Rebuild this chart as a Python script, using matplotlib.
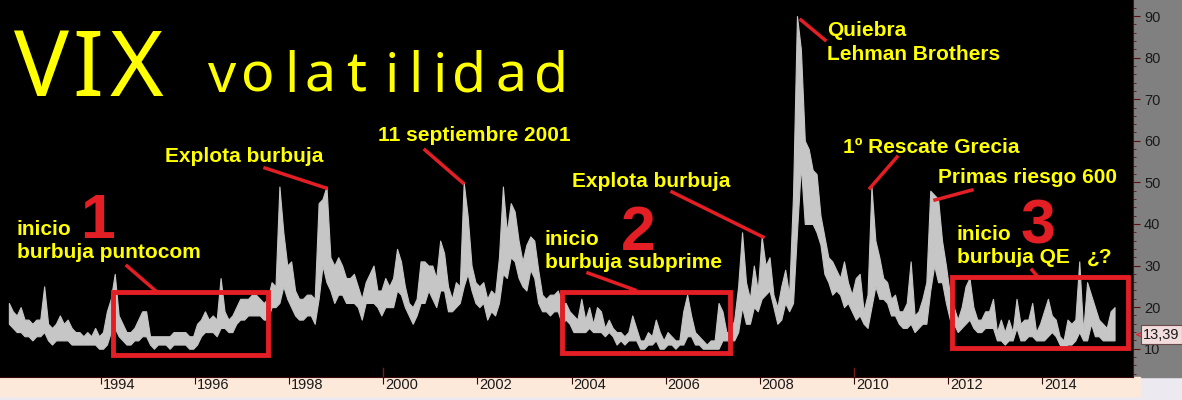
import matplotlib
matplotlib.use("Agg")
import matplotlib.pyplot as plt
import matplotlib.transforms as mtransforms
from matplotlib.patches import Rectangle
from matplotlib.lines import Line2D

# monthly VIX range, Jan 1992 .. Jul 2015
start_year = 1992
vix_high = [
    21, 19, 18, 20, 17, 17, 16, 17, 17, 25, 16, 15,   # 1992
    16, 18, 16, 17, 15, 14, 14, 13, 14, 13, 15, 13,   # 1993
    14, 19, 22, 28, 18, 16, 14, 14, 15, 17, 19, 19,   # 1994
    13, 13, 13, 13, 13, 13, 14, 14, 14, 14, 13, 13,   # 1995
    16, 17, 19, 17, 18, 17, 27, 19, 17, 18, 20, 22,   # 1996
    22, 22, 23, 23, 22, 21, 22, 26, 25, 49, 38, 30,   # 1997
    31, 24, 22, 22, 23, 23, 22, 45, 46, 49, 32, 30,   # 1998
    32, 30, 27, 27, 28, 25, 22, 26, 28, 30, 24, 24,   # 1999
    27, 25, 27, 34, 31, 25, 21, 20, 22, 31, 31, 30,   # 2000
    30, 27, 36, 33, 25, 22, 26, 25, 50, 42, 30, 26,   # 2001
    25, 26, 22, 24, 23, 32, 49, 38, 45, 43, 36, 31,   # 2002
    35, 37, 36, 29, 23, 22, 23, 23, 24, 21, 21, 19,   # 2003
    18, 17, 22, 17, 20, 16, 20, 19, 15, 17, 15, 14,   # 2004
    14, 13, 14, 18, 15, 12, 12, 14, 13, 17, 14, 12,   # 2005
    14, 13, 12, 12, 19, 23, 18, 14, 13, 12, 11, 12,   # 2006
    12, 21, 19, 14, 14, 17, 25, 38, 26, 22, 30, 24,   # 2007
    37, 30, 32, 23, 20, 25, 29, 23, 47, 90, 82, 60,   # 2008
    58, 53, 52, 42, 37, 32, 31, 29, 27, 31, 26, 23,   # 2009
    27, 28, 19, 23, 49, 36, 32, 27, 26, 22, 23, 19,   # 2010
    19, 21, 31, 18, 19, 22, 26, 48, 47, 46, 36, 30,   # 2011
    23, 20, 17, 20, 25, 27, 20, 17, 17, 19, 19, 22,   # 2012
    14, 17, 14, 17, 14, 22, 16, 17, 17, 21, 14, 16,   # 2013
    19, 22, 18, 17, 13, 12, 17, 16, 17, 31, 14, 26,   # 2014
    23, 20, 17, 16, 15, 19, 20,                       # 2015
]
vix_low = [
    16, 15, 14, 14, 13, 13, 12, 13, 13, 14, 12, 11,
    12, 12, 12, 12, 11, 11, 11, 11, 11, 11, 11, 10,
    10, 11, 14, 15, 13, 12, 11, 11, 12, 12, 13, 13,
    11, 10, 11, 11, 11, 10, 11, 11, 11, 11, 10, 10,
    11, 13, 14, 14, 14, 13, 15, 15, 14, 14, 16, 17,
    17, 18, 18, 18, 18, 17, 17, 20, 20, 21, 25, 22,
    20, 18, 17, 17, 18, 18, 16, 22, 30, 26, 24, 21,
    23, 23, 21, 21, 21, 20, 17, 21, 21, 21, 20, 18,
    20, 20, 20, 24, 23, 20, 18, 16, 18, 21, 21, 24,
    22, 20, 24, 24, 19, 19, 20, 21, 25, 28, 24, 21,
    20, 21, 17, 19, 18, 21, 28, 27, 32, 31, 27, 25,
    24, 29, 27, 21, 19, 19, 18, 19, 19, 16, 17, 16,
    14, 14, 14, 14, 15, 14, 14, 14, 13, 14, 13, 11,
    12, 11, 12, 12, 12, 10, 10, 11, 11, 12, 10, 10,
    11, 11, 10, 11, 11, 13, 13, 11, 11, 10, 10, 10,
    10, 10, 12, 12, 12, 12, 14, 20, 16, 16, 20, 19,
    22, 23, 24, 20, 16, 17, 21, 19, 21, 38, 54, 40,
    40, 40, 38, 35, 28, 26, 23, 24, 23, 20, 21, 19,
    17, 18, 16, 15, 20, 25, 22, 22, 21, 18, 18, 16,
    15, 15, 16, 14, 15, 16, 16, 24, 30, 26, 26, 21,
    17, 16, 14, 15, 16, 17, 15, 14, 14, 15, 15, 15,
    12, 12, 11, 12, 12, 15, 12, 12, 13, 13, 12, 12,
    12, 13, 14, 13, 11, 10, 11, 11, 12, 14, 12, 12,
    16, 13, 13, 12, 12, 12, 12,
]
last_value = 13.39
year_ticks = [1994, 1996, 1998, 2000, 2002, 2004, 2006, 2008, 2010, 2012, 2014]
value_ticks = [10, 20, 30, 40, 50, 60, 70, 80, 90]

# boxes marking the three bubbles (years, vix)
boxes = [(1994.26, 1997.55, 8.5, 23.7), (2003.80, 2007.37, 9.0, 23.7), (2012.09, 2015.83, 10.2, 27.3)]

t = [start_year + (i + 0.5) / 12 for i in range(len(vix_high))]

W, H = 1182, 400
RED = "#e31e24"
YEL = "#ffff00"
BOLD = ["Liberation Sans", "DejaVu Sans"]
NARROW = ["Liberation Sans Narrow", "Liberation Sans"]

fig = plt.figure(figsize=(W / 100, H / 100), dpi=100, facecolor="#ece9f0")

def fx(x):
    return x / W

def fy(y):
    return 1 - y / H

# right gray panel and bottom date band (behind the axes)
fig.patches.append(Rectangle((fx(1133), fy(377)), fx(W - 1133), 377 / H,
                             transform=fig.transFigure, color="#808080", zorder=-2))
fig.patches.append(Rectangle((0, fy(396)), fx(1140), 19 / H,
                             transform=fig.transFigure, color="#fde9da", zorder=-2))

ax = fig.add_axes([0, fy(377), fx(1133), 377 / H])
ax.set_facecolor("black")
ax.set_xlim(1991.853, 2015.934)
ax.set_ylim(3.2, 93.85)

ax.fill_between(t, vix_low, vix_high, color="#c6c6c6", lw=0.8, edgecolor="#c6c6c6")

for x0, x1, y0, y1 in boxes:
    ax.add_patch(Rectangle((x0, y0), x1 - x0, y1 - y0, fill=False,
                           edgecolor=RED, lw=3.5, clip_on=False, zorder=5))

for s in ["top", "left"]:
    ax.spines[s].set_visible(False)
ax.spines["right"].set_color("#5a1010")
ax.spines["bottom"].set_color("#3a0a0a")

ax.yaxis.tick_right()
ax.set_yticks(value_ticks)
ax.set_yticks(range(4, 94, 2), minor=True)
ax.tick_params(axis="y", which="major", direction="out", length=5, color="#5a1010",
               labelcolor="#1a1a1a", labelsize=10.5, pad=3)
ax.tick_params(axis="y", which="minor", direction="out", length=2.5, color="#5a1010")
ax.set_yticklabels([str(v) for v in value_ticks], family=NARROW)

ax.set_xticks(year_ticks)
ax.set_xticklabels([str(y) for y in year_ticks], family=NARROW)
ax.tick_params(axis="x", direction="out", length=5, color="#2a0a0a",
               labelcolor="#1a1a1a", labelsize=10.5, pad=-4)
for lab in ax.get_xticklabels():
    lab.set_horizontalalignment("left")
    lab.set_transform(lab.get_transform() + mtransforms.ScaledTranslation(2 / 100, 0, fig.dpi_scale_trans))

trans = mtransforms.blended_transform_factory(ax.transData, ax.transAxes)
for yr in [2000, 2010]:
    ax.plot([yr, yr], [0, 0.025], transform=trans, color="#7a1a1a", lw=1, clip_on=False)

# last value label
ax.annotate(f"{last_value:.2f}".replace(".", ","), xy=(1.0, last_value),
            xycoords=("axes fraction", "data"), xytext=(10, 0), textcoords="offset pixels",
            va="center", ha="left", fontsize=10.5, color="#1a1a1a", family=NARROW,
            bbox=dict(boxstyle="square,pad=0.15", fc="#f2dcdc", ec="#6a4a4a", lw=0.8),
            arrowprops=dict(arrowstyle="->", color=RED, lw=0.8))

# title, letter by letter
for ch, x in [("V", 42), ("I", 88), ("X", 136)]:
    fig.text(fx(x), fy(96), ch, color=YEL, fontsize=66, ha="center", va="baseline",
             family=["Noto Sans", "DejaVu Sans"], fontstretch="extra-condensed")
for ch, x in zip("volatilidad", [222, 258, 291, 320, 356, 392, 415, 440, 469, 511, 551]):
    fig.text(fx(x), fy(92), ch, color=YEL, fontsize=40, ha="center", va="baseline",
             family=["Noto Sans", "DejaVu Sans"], fontstretch="condensed")

notes = [
    ("Quiebra", 827, 36), ("Lehman Brothers", 827, 60),
    ("1º Rescate Grecia", 843, 153), ("Primas riesgo 600", 938, 183),
    ("Explota burbuja", 165, 162), ("11 septiembre 2001", 378, 141),
    ("Explota burbuja", 572, 187),
    ("inicio", 17, 235), ("burbuja puntocom", 17, 258),
    ("inicio", 545, 245), ("burbuja subprime", 545, 268),
    ("inicio", 957, 240), ("burbuja QE", 957, 263), ("¿?", 1087, 263),
]
for txt, x, y in notes:
    fig.text(fx(x), fy(y), txt, color=YEL, fontsize=15, fontweight="bold",
             ha="left", va="baseline", family=BOLD)

for num, x, y in [("1", 97, 238), ("2", 638, 250), ("3", 1038, 243)]:
    fig.text(fx(x), fy(y), num, color=RED, fontsize=45, fontweight="bold",
             ha="center", va="baseline", family=BOLD)

pointers = [
    (127, 266, 157, 292), (265, 168, 326, 188), (425, 150, 463, 183),
    (672, 192, 763, 237), (588, 273, 635, 290), (801, 20, 825, 40),
    (897, 157, 870, 188), (972, 190, 935, 200), (1032, 270, 1038, 277),
]
for x1, y1, x2, y2 in pointers:
    fig.add_artist(Line2D([fx(x1), fx(x2)], [fy(y1), fy(y2)], color=RED, lw=2.5,
                          transform=fig.transFigure))

fig.savefig("out.png", dpi=100, facecolor=fig.get_facecolor())
